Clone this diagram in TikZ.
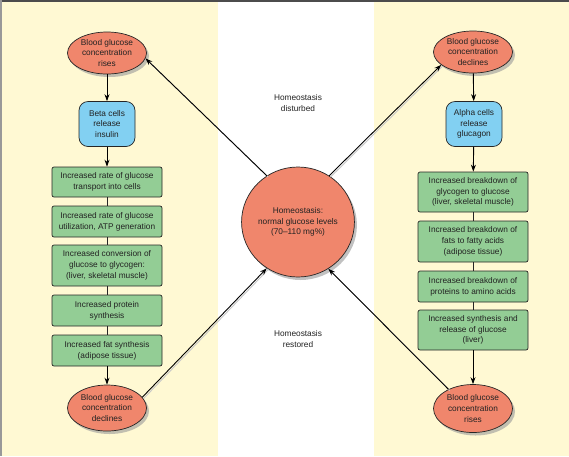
\documentclass[tikz,border=0pt]{standalone}
\usepackage{fontspec}
\setmainfont{Liberation Sans}
\usetikzlibrary{shapes.geometric,shadows,arrows.meta}
\definecolor{bgyel}{HTML}{FFF9D3}
\definecolor{salmon}{HTML}{F0866C}
\definecolor{cellblue}{HTML}{82D0F2}
\definecolor{boxgreen}{HTML}{93CD95}
\definecolor{txt}{HTML}{222222}
\begin{document}
\begin{tikzpicture}[x=1pt,y=-1pt,
  font=\fontsize{8.3}{10.7}\selectfont, text=txt,
  ell/.style={ellipse, draw=black!85, line width=0.7pt, fill=salmon, inner sep=0pt,
    minimum width=79pt, minimum height=42pt, align=center,
    drop shadow={shadow xshift=2.5pt, shadow yshift=-3pt, fill=black!40, opacity=0.6}},
  cell/.style={rectangle, rounded corners=9pt, draw=black!85, line width=0.7pt, fill=cellblue,
    minimum width=56pt, minimum height=45pt, inner sep=0pt, align=center},
  gbox/.style={rectangle, rounded corners=2pt, draw=black!85, line width=0.7pt, fill=boxgreen,
    minimum width=110pt, inner sep=0pt, align=center},
  arr/.style={-{Stealth[length=7pt,width=5pt]}, line width=0.9pt, draw=black},
  link/.style={line width=0.9pt, draw=black!85},
  shad/.style={draw=black!22, line width=0.9pt, transform canvas={xshift=1.3pt,yshift=-1.3pt}},
  lbl/.style={align=center, inner sep=0pt}
]
% background
\useasboundingbox (0,0) rectangle (569,456);
\fill[white] (0,0) rectangle (569,456);
\fill[bgyel] (2,2) rectangle (218,456);
\fill[bgyel] (374,2) rectangle (569,456);
\fill[black!70] (0,0) rectangle (569,2);
\fill[black!40] (0,0) rectangle (2,456);

% centre
\node[ell, minimum width=98pt, minimum height=110pt] (c) at (298,222)
  {Homeostasis:\\normal glucose levels\\(70--110 mg\%)};
\node[lbl] (dist) at (298,103) {Homeostasis\\disturbed};
\node[lbl] (rest) at (298,339) {Homeostasis\\restored};

% left column
\node[ell] (lt) at (107,53) {Blood glucose\\concentration\\rises};
\node[cell] (beta) at (107,124) {Beta cells\\release\\insulin};
\node[gbox, minimum height=30pt] (l1) at (107,182) {Increased rate of glucose\\transport into cells};
\node[gbox, minimum height=31pt] (l2) at (107,221.5) {Increased rate of glucose\\utilization, ATP generation};
\node[gbox, minimum height=41pt] (l3) at (107,265.5) {Increased conversion of\\glucose to glycogen:\\(liver, skeletal muscle)};
\node[gbox, minimum height=31pt] (l4) at (107,310.5) {Increased protein\\synthesis};
\node[gbox, minimum height=31pt] (l5) at (107,350.5) {Increased fat synthesis\\(adipose tissue)};
\node[ell, minimum height=46pt] (lb) at (107,408) {Blood glucose\\concentration\\declines};

% right column
\node[ell] (rt) at (473,52) {Blood glucose\\concentration\\declines};
\node[cell] (alpha) at (474,124) {Alpha cells\\release\\glucagon};
\node[gbox, minimum height=40pt] (r1) at (473,192) {Increased breakdown of\\glycogen to glucose\\(liver, skeletal muscle)};
\node[gbox, minimum height=41pt] (r2) at (473,241.5) {Increased breakdown of\\fats to fatty acids\\(adipose tissue)};
\node[gbox, minimum height=31pt] (r3) at (473,286.5) {Increased breakdown of\\proteins to amino acids};
\node[gbox, minimum height=40pt] (r4) at (473,330) {Increased synthesis and\\release of glucose\\(liver)};
\node[ell, minimum height=48pt] (rb) at (473,408.5) {Blood glucose\\concentration\\rises};

% vertical connectors left
\draw[arr] (lt) -- (beta);
\draw[arr] (beta) -- (l1);
\draw[link] (l1) -- (l2);
\draw[link] (l2) -- (l3);
\draw[link] (l3) -- (l4);
\draw[link] (l4) -- (l5);
\draw[arr] (l5) -- (lb);

% vertical connectors right
\draw[arr] (rt) -- (alpha);
\draw[arr] (alpha) -- (r1);
\draw[link] (r1) -- (r2);
\draw[link] (r2) -- (r3);
\draw[link] (r3) -- (r4);
\draw[arr] (r4) -- (rb);

% diagonal arrows (with shadows)
\draw[shad] (c.124) -- (lt.-8);
\draw[arr] (c.124) -- (lt.-8);
\draw[shad] (c.56) -- (rt.-158);
\draw[arr] (c.56) -- (rt.-158);
\draw[shad] (lb.17) -- (c.-124);
\draw[arr] (lb.17) -- (c.-124);
\draw[shad] (rb.142) -- (c.-57);
\draw[arr] (rb.142) -- (c.-57);
\end{tikzpicture}
\end{document}
